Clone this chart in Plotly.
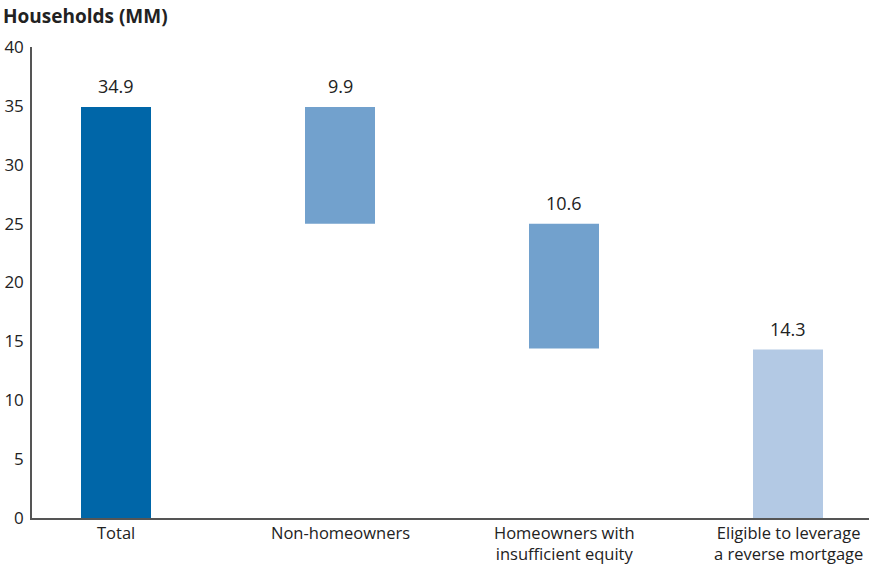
import plotly.graph_objects as go

categories = ["Total", "Non-homeowners", "Homeowners with<br>insufficient equity", "Eligible to leverage<br>a reverse mortgage"]
values = [34.9, 9.9, 10.6, 14.3]
labels = ["34.9", "9.9", "10.6", "14.3"]
colors = ["#0066A8", "#72A1CD", "#72A1CD", "#B3C9E4"]
y_ticks = [0, 5, 10, 15, 20, 25, 30, 35, 40]

# waterfall bases: total from 0, then steps down, final from 0
bases = [0.0]
level = values[0]
for v in values[1:-1]:
    level = level - v
    bases.append(level)
bases.append(0.0)

FONT = "Open Sans"
TXT = "#222222"
x_idx = list(range(len(categories)))

fig = go.Figure()
fig.add_trace(go.Bar(
    x=x_idx, y=values, base=bases,
    marker=dict(color=colors, line=dict(width=0)),
    width=0.3125,
    hoverinfo="skip",
))

annotations = []
# value labels above bars
for i, (b, v, t) in enumerate(zip(bases, values, labels)):
    annotations.append(dict(
        x=i, y=b + v, xref="x", yref="y", text=t, showarrow=False,
        xanchor="center", yanchor="bottom", yshift=7,
        font=dict(family=FONT, size=18, color=TXT),
    ))
# category labels below axis
for i, cat in enumerate(categories):
    annotations.append(dict(
        x=i, y=0, xref="x", yref="paper", text=cat, showarrow=False,
        xanchor="center", yanchor="top", yshift=-1,
        font=dict(family=FONT, size=16.5, color=TXT),
    ))

fig.update_layout(
    width=869, height=565,
    margin=dict(l=32, r=0, t=47, b=47),
    paper_bgcolor="white", plot_bgcolor="white",
    showlegend=False,
    title=dict(text="<b>Households (MM)</b>", x=3 / 869, xref="container", xanchor="left",
               y=1 - 16 / 565, yref="container", yanchor="middle",
               font=dict(family=FONT, size=19, color=TXT)),
    font=dict(family=FONT, size=18, color=TXT),
    annotations=annotations,
)
fig.update_xaxes(
    range=[-0.375, 3.3616], tickvals=x_idx, showticklabels=False,
    showline=True, linecolor="#555555", linewidth=1.5, ticks="", showgrid=False,
    zeroline=False, automargin=False,
)
fig.update_yaxes(
    range=[0, 40], tickvals=y_ticks, showline=True, linecolor="#555555", linewidth=1.5,
    ticks="", showgrid=False, zeroline=False, ticklabelstandoff=3, automargin=False,
    tickfont=dict(family=FONT, size=17, color=TXT),
)

fig.write_html("out.html")
